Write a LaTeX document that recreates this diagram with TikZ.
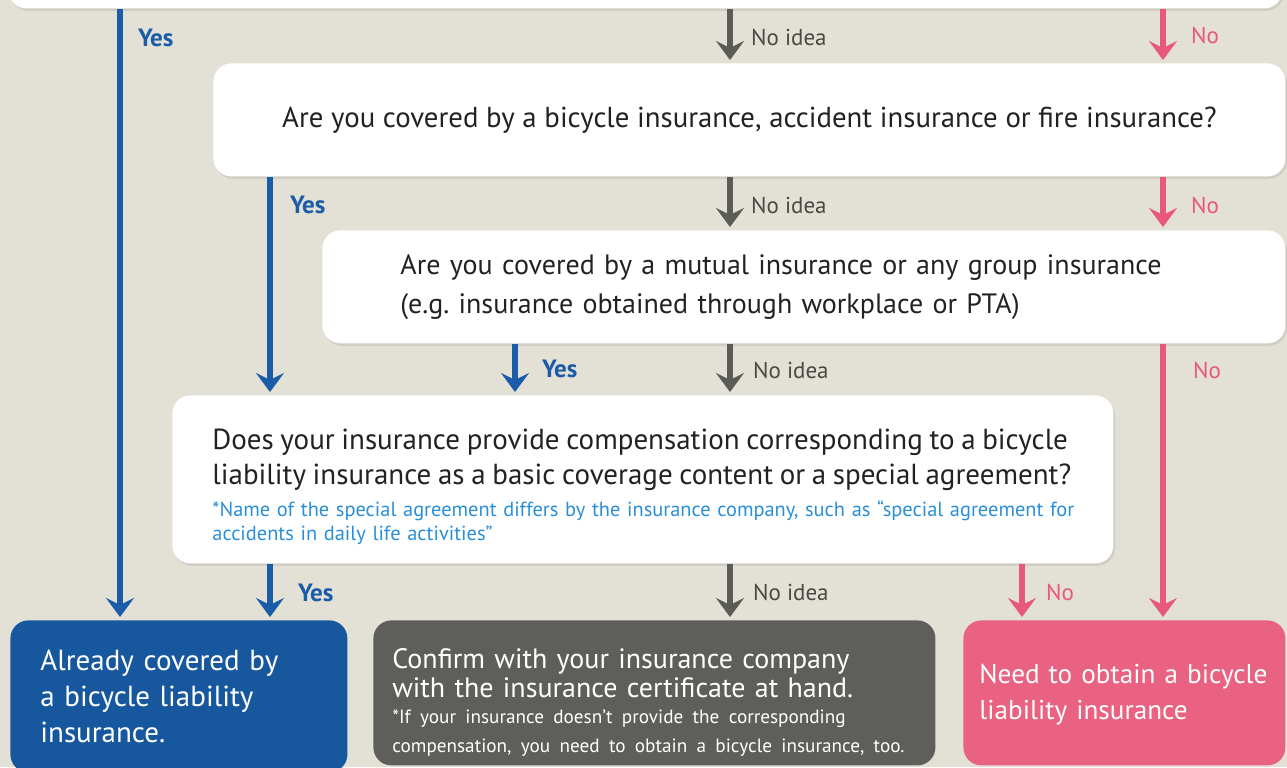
\documentclass[tikz,border=0pt]{standalone}
\usepackage{fontspec}
\setmainfont{PT Sans}
\usetikzlibrary{arrows.meta,shadows}

\definecolor{bg}{HTML}{E3E1D5}
\definecolor{ablue}{HTML}{1B5CA8}
\definecolor{bblue}{HTML}{17579E}
\definecolor{noteblue}{HTML}{2A8FD9}
\definecolor{agray}{HTML}{5B5B57}
\definecolor{bgray}{HTML}{5E5F5B}
\definecolor{apink}{HTML}{E8587C}
\definecolor{bpink}{HTML}{EA6281}
\definecolor{qtext}{HTML}{222222}

\newcommand{\qfont}{\fontsize{14}{19.5}\selectfont}
\newcommand{\notefont}{\fontsize{10.2}{12}\selectfont}
\frenchspacing

\tikzset{
  qbox/.style={fill=white, rounded corners=9pt, anchor=north west, text=qtext,
    drop shadow={shadow xshift=0.8pt, shadow yshift=-1.2pt, opacity=0.2}},
  rbox/.style={rounded corners=9pt, anchor=north west, text=white, align=left},
  arr/.style={line width=2.6pt, -{Stealth[length=9.5pt,width=14pt,inset=3.5pt]},
    shorten >=1.5pt},
  yeslbl/.style={anchor=west, text=ablue, font=\fontsize{12.5}{14}\selectfont\bfseries},
  idealbl/.style={anchor=west, text=agray!80!black, font=\fontsize{11.5}{14}\selectfont},
  nolbl/.style={anchor=west, text=apink, font=\fontsize{11.5}{14}\selectfont}
}

\begin{document}
\begin{tikzpicture}[x=0.5pt,y=-0.5pt]
  \fill[bg] (0,0) rectangle (1287,767);
  \useasboundingbox (0,0) rectangle (1287,767);
  \clip (0,0) rectangle (1287,767);

  % columns of the connectors
  \coordinate (cA) at (120,0);
  \coordinate (cB) at (270,0);
  \coordinate (cC) at (515,0);
  \coordinate (cD) at (730,0);
  \coordinate (cF) at (1022,0);
  \coordinate (cE) at (1163,0);

  % questions
  \node[qbox, minimum width=637pt, minimum height=44pt] (q0) at (8,-80) {};
  \node[qbox, font=\fontsize{14.4}{19.5}\selectfont, minimum width=536pt,
    minimum height=56.5pt] (q1) at (213,63)
    {Are you covered by a bicycle insurance, accident insurance or fire insurance?};
  \node[qbox, font=\qfont, align=left, inner xsep=39pt, text width=403.5pt,
    minimum width=481.5pt, minimum height=56.5pt] (q2) at (322,230)
    {Are you covered by a mutual insurance or any group insurance\\
     (e.g. insurance obtained through workplace or PTA)};
  \node[qbox, align=left, inner xsep=20pt, text width=430.5pt,
    minimum width=470.5pt, minimum height=84pt] (q3) at (172,395)
    {\fontsize{14.5}{17.5}\selectfont
     \rule{0pt}{17.5pt}Does your insurance provide compensation corresponding to a bicycle\\
     liability insurance as a basic coverage content or a special agreement?\\[4pt]
     \notefont\mbox{\color{noteblue}*Name of the special agreement differs by the insurance company, such as “special agreement for}\\
     \mbox{\color{noteblue}accidents in daily life activities”}};

  % results
  \node[rbox, fill=bblue, inner xsep=15pt, text width=138.5pt,
    minimum width=168.5pt, minimum height=76pt,
    font=\fontsize{14.5}{18}\selectfont] (res1) at (10,620)
    {Already covered by\\ a bicycle liability\\ insurance.};
  \node[rbox, fill=bgray, inner xsep=9.5pt, text width=262pt,
    minimum width=281pt, minimum height=72.5pt,
    font=\fontsize{14}{14.5}\selectfont] (res2) at (373,620)
    {\rule{0pt}{20pt}Confirm with your insurance company\\
     with the insurance certificate at hand.\\[1pt]
     \fontsize{9.6}{12}\selectfont *If your insurance doesn't provide the corresponding\\
     compensation, you need to obtain a bicycle insurance, too.};
  \node[rbox, fill=bpink, inner xsep=8pt, text width=145pt,
    minimum width=161pt, minimum height=72.5pt,
    font=\fontsize{13.6}{18}\selectfont] (res3) at (963,620)
    {\rule{0pt}{11pt}Need to obtain a bicycle\\ liability insurance};

  % connectors
  \draw[arr, ablue] (q0.south -| cA) -- (res1.north -| cA);
  \draw[arr, agray] (q0.south -| cD) -- (q1.north -| cD);
  \draw[arr, apink] (q0.south -| cE) -- (q1.north -| cE);
  \draw[arr, ablue] (q1.south -| cB) -- (q3.north -| cB);
  \draw[arr, agray] (q1.south -| cD) -- (q2.north -| cD);
  \draw[arr, apink] (q1.south -| cE) -- (q2.north -| cE);
  \draw[arr, ablue] (q2.south -| cC) -- (q3.north -| cC);
  \draw[arr, agray] (q2.south -| cD) -- (q3.north -| cD);
  \draw[arr, apink] (q2.south -| cE) -- (res3.north -| cE);
  \draw[arr, ablue] (q3.south -| cB) -- (res1.north -| cB);
  \draw[arr, agray] (q3.south -| cD) -- (res2.north -| cD);
  \draw[arr, apink] (q3.south -| cF) -- (res3.north -| cF);

  % labels
  \node[yeslbl] (yes1) at (131,38) {Yes};
  \node[idealbl] (idea1) at (744,37) {No idea};
  \node[nolbl] (no1) at (1184,35) {No};
  \node[yeslbl] (yes2) at (283,205) {Yes};
  \node[idealbl] (idea2) at (744,205) {No idea};
  \node[nolbl] (no2) at (1184,205) {No};
  \node[yeslbl] (yes3) at (535,369) {Yes};
  \node[idealbl] (idea3) at (746,370) {No idea};
  \node[nolbl] (no3) at (1186,370) {No};
  \node[yeslbl] (yes4) at (291,593) {Yes};
  \node[idealbl] (idea4) at (746,592) {No idea};
  \node[nolbl] (no4) at (1039,592) {No};
\end{tikzpicture}
\end{document}
